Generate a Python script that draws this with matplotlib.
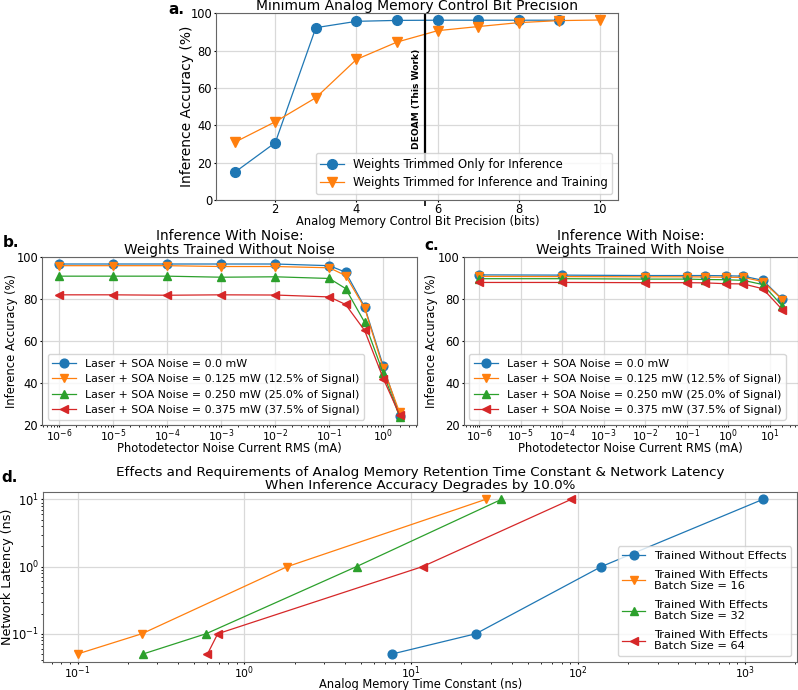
import numpy as np
import matplotlib
matplotlib.use("Agg")
import matplotlib.pyplot as plt
from matplotlib.ticker import LogLocator

# ---------------- Data ----------------
# Panel a
bits_only_inf = [1, 2, 3, 4, 5, 6, 7, 8, 9]
acc_only_inf = [14.8, 30.7, 92.3, 95.7, 96.2, 96.3, 96.3, 96.3, 96.3]
bits_inf_train = [1, 2, 3, 4, 5, 6, 7, 8, 9, 10]
acc_inf_train = [30.9, 41.9, 54.8, 75.3, 84.6, 90.7, 92.9, 95.0, 96.1, 96.4]
deoam_bits = 5.7
deoam_span = [20, 100]

# Panel b
pd_noise_b = [1e-6, 1e-5, 1e-4, 1e-3, 1e-2, 1e-1, 0.2, 0.45, 1.0, 2.0]
b_00 = [96.8, 96.8, 96.8, 96.8, 96.8, 96.0, 92.9, 76.4, 48.0, 24.5]
b_125 = [96.0, 96.0, 96.0, 95.6, 95.6, 95.0, 91.3, 75.9, 47.0, 26.0]
b_250 = [91.0, 91.0, 91.0, 90.5, 90.7, 89.9, 85.1, 69.0, 44.6, 24.0]
b_375 = [82.1, 82.1, 81.9, 82.1, 82.0, 81.1, 77.5, 65.1, 42.1, 24.8]

# Panel c
pd_noise_c = [1e-6, 1e-4, 1e-2, 1e-1, 0.28, 0.87, 2.3, 6.8, 20.0]
c_00 = [91.6, 91.5, 91.3, 91.3, 91.3, 91.2, 91.0, 89.0, 80.0]
c_125 = [90.9, 90.8, 90.7, 90.7, 90.6, 90.5, 90.4, 88.4, 79.8]
c_250 = [89.8, 89.8, 89.6, 89.6, 89.4, 89.3, 89.0, 87.0, 76.8]
c_375 = [88.0, 88.0, 87.9, 87.9, 87.8, 87.4, 87.3, 85.0, 75.0]

noise_labels = [
    "Laser + SOA Noise = 0.0 mW",
    "Laser + SOA Noise = 0.125 mW (12.5% of Signal)",
    "Laser + SOA Noise = 0.250 mW (25.0% of Signal)",
    "Laser + SOA Noise = 0.375 mW (37.5% of Signal)",
]

# Panel d
latency = [0.05, 0.1, 1.0, 10.0]
tau_no_effects = [7.7, 24.4, 138, 1280]
tau_bs16 = [0.1, 0.243, 1.81, 27.9]
tau_bs32 = [0.247, 0.589, 4.7, 34.7]
tau_bs64 = [0.601, 0.692, 11.7, 90.8]
d_labels = [
    "Trained Without Effects",
    "Trained With Effects\nBatch Size = 16",
    "Trained With Effects\nBatch Size = 32",
    "Trained With Effects\nBatch Size = 64",
]

# ---------------- Plot ----------------
plt.rcParams.update({
    "font.size": 8.3,
    "axes.edgecolor": "0.4",
    "grid.color": "0.85",
    "grid.linewidth": 0.9,
    "xtick.major.size": 1.5,
    "ytick.major.size": 1.5,
    "xtick.minor.size": 1.2,
    "ytick.minor.size": 1.2,
    "xtick.major.pad": 1.0,
    "ytick.major.pad": 1.5,
    "xtick.minor.pad": 1.0,
})

W, H = 798, 690
fig = plt.figure(figsize=(W / 100, H / 100), dpi=100)

def ax_px(l, r, t, b):
    return fig.add_axes([l / W, 1 - b / H, (r - l) / W, (b - t) / H])

colors = ["#1f77b4", "#ff7f0e", "#2ca02c", "#d62728"]
markers = ["o", "v", "^", "<"]
ms = 6.3
lw = 0.9

# a
axa = ax_px(216.4, 618.3, 13.3, 200)
axa.plot(bits_only_inf, acc_only_inf, marker="o", color=colors[0], ms=7, lw=lw,
         label="Weights Trimmed Only for Inference")
axa.plot(bits_inf_train, acc_inf_train, marker="v", color=colors[1], ms=7, lw=lw,
         label="Weights Trimmed for Inference and Training")
axa.plot([deoam_bits, deoam_bits], deoam_span, color="black", lw=1.6)
axa.text(deoam_bits - 0.22, 54, "DEOAM (This Work)", rotation=90, fontsize=6.6,
         fontweight="bold", ha="center", va="center")
axa.set_xticks([deoam_bits], minor=True)
axa.tick_params(axis="x", which="minor", length=4, width=1.2, color="black")
axa.tick_params(axis="x", which="major", pad=0.5)
axa.set_ylim(0, 100)
axa.grid(True)
axa.set_title("Minimum Analog Memory Control Bit Precision", fontsize=10, pad=2)
axa.set_xlabel("Analog Memory Control Bit Precision (bits)")
axa.set_ylabel("Inference Accuracy (%)", fontsize=10)
axa.xaxis.set_label_coords(0.5, -0.08)
axa.yaxis.set_label_coords(-0.056, 0.5)
axa.legend(loc="lower right", fontsize=8.4)
fig.text(168 / W, 1 - 9 / H, "a.", fontsize=11, fontweight="bold", va="center")

log_tick_kw = dict(axis="x", which="both", labelsize=7.8, pad=0.3)

# b
axb = ax_px(42.3, 416.6, 257.3, 425)
for ys, c, m, lab in zip([b_00, b_125, b_250, b_375], colors, markers, noise_labels):
    axb.plot(pd_noise_b, ys, marker=m, color=c, ms=ms, lw=lw, label=lab)
axb.set_xscale("log")
axb.xaxis.set_major_locator(LogLocator(base=10, numticks=30))
axb.tick_params(**log_tick_kw)
axb.set_ylim(20, 100)
axb.grid(True)
axb.set_title("Inference With Noise:\nWeights Trained Without Noise", fontsize=9.9, pad=2,
              linespacing=1.0)
axb.set_xlabel("Photodetector Noise Current RMS (mA)")
axb.set_ylabel("Inference Accuracy (%)")
axb.xaxis.set_label_coords(0.5, -0.104)
axb.yaxis.set_label_coords(-0.064, 0.5)
axb.legend(loc="lower left", fontsize=7.9, handlelength=2.2)
fig.text(3 / W, 1 - 242 / H, "b.", fontsize=11, fontweight="bold", va="center")

# c
axc = ax_px(463.8, 797.5, 257.3, 425)
for ys, c, m, lab in zip([c_00, c_125, c_250, c_375], colors, markers, noise_labels):
    axc.plot(pd_noise_c, ys, marker=m, color=c, ms=ms, lw=lw, label=lab)
axc.set_xscale("log")
axc.xaxis.set_major_locator(LogLocator(base=10, numticks=30))
axc.tick_params(**log_tick_kw)
axc.set_ylim(20, 100)
axc.grid(True)
axc.set_title("Inference With Noise:\nWeights Trained With Noise", fontsize=9.9, pad=2,
              linespacing=1.0)
axc.set_xlabel("Photodetector Noise Current RMS (mA)")
axc.set_ylabel("Inference Accuracy (%)")
axc.xaxis.set_label_coords(0.5, -0.1)
axc.yaxis.set_label_coords(-0.077, 0.5)
axc.legend(loc="lower left", fontsize=7.9, handlelength=2.2)
fig.text(424 / W, 1 - 245 / H, "c.", fontsize=11, fontweight="bold", va="center")

# d
axd = ax_px(43.3, 797, 491.7, 661.7)
for xs, c, m, lab in zip([tau_no_effects, tau_bs16, tau_bs32, tau_bs64], colors, markers, d_labels):
    axd.plot(xs, latency, marker=m, color=c, ms=ms, lw=lw, label=lab)
axd.set_xscale("log")
axd.set_yscale("log")
axd.tick_params(**log_tick_kw)
axd.grid(True)
axd.set_title("Effects and Requirements of Analog Memory Retention Time Constant & Network Latency\n"
              "When Inference Accuracy Degrades by 10.0%", fontsize=9.7, pad=2, linespacing=1.0)
axd.set_xlabel("Analog Memory Time Constant (ns)")
axd.set_ylabel("Network Latency (ns)", fontsize=9.2)
axd.xaxis.set_label_coords(0.5, -0.095)
axd.yaxis.set_label_coords(-0.039, 0.5)
axd.legend(loc="lower right", fontsize=8.2, labelspacing=0.75)
fig.text(1 / W, 1 - 478 / H, "d.", fontsize=11, fontweight="bold", va="center")

fig.savefig("out.png", dpi=100)
